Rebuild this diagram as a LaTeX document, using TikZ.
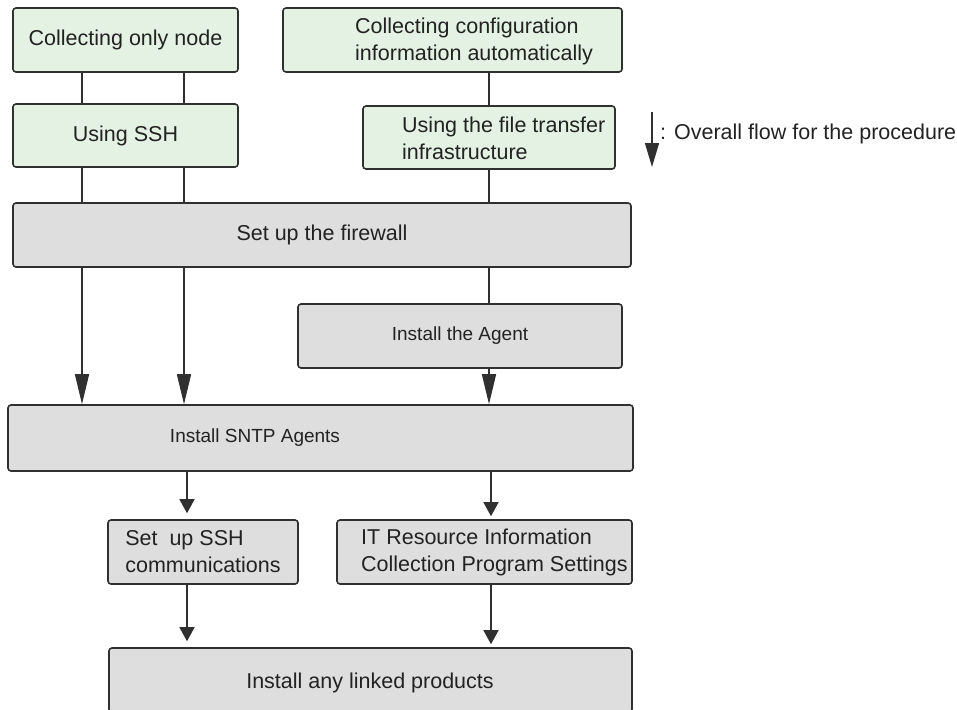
\documentclass[tikz,border=0pt]{standalone}
\usepackage{fontspec}
\setmainfont{Liberation Sans}
\usetikzlibrary{arrows.meta}
\definecolor{boxgreen}{HTML}{E4F2E4}
\definecolor{boxgray}{HTML}{DEDEDE}
\definecolor{edgec}{HTML}{303030}
\definecolor{textc}{HTML}{222222}
\begin{document}
\begin{tikzpicture}[x=1pt,y=-1pt,
  box/.style={draw=edgec, line width=1.6pt, rounded corners=3pt, inner sep=0pt, minimum height=64pt},
  gbox/.style={box, fill=boxgreen, minimum width=#1},
  ybox/.style={box, fill=boxgray, minimum width=#1},
  txt/.style={font=\fontsize{21.5}{27}\selectfont, text=textc, align=left, inner sep=0pt},
  stxt/.style={font=\fontsize{19}{23}\selectfont, text=textc, align=left, inner sep=0pt},
  conn/.style={draw=edgec, line width=1.5pt},
  arrL/.style={conn, -{Triangle[length=30pt,width=14pt]}},
  arrS/.style={conn, -{Triangle[length=14pt,width=15pt]}},
]
\useasboundingbox (0,0) rectangle (957,709);
% column coordinates
\coordinate (cA) at (82,0);
\coordinate (cB) at (184,0);
\coordinate (cC) at (489,0);
\coordinate (cD) at (187,0);
\coordinate (cE) at (491,0);

% top green boxes
\node[gbox=225pt, txt] (b1) at (125.5,40) {Collecting only node};
\node[gbox=225pt, txt, minimum height=63pt] (b2) at (125.5,135.5) {Using SSH};
\node[gbox=339pt] (b3) at (452.5,40) {};
\node[txt, anchor=west] (b3t) at (355,41) {Collecting configuration\\information automatically};
\node[gbox=252pt, minimum height=63pt] (b4) at (489,137.5) {};
\node[txt, anchor=west] (b4t) at (402,138) {Using the file transfer\\infrastructure};

% gray boxes
\node[ybox=618pt, txt] (fw) at (322,235) {Set up the firewall};
\node[ybox=324pt, stxt] (ag) at (460,336) {Install the Agent};
\node[ybox=625pt, minimum height=66pt] (sn) at (320.5,438) {};
\node[stxt] (snt) at (255,438) {Install SNTP Agents};
\node[ybox=190pt, txt] (ssh) at (203,552) {Set\ \ up SSH\\communications};
\node[ybox=295pt] (it) at (484.5,552) {};
\node[txt, anchor=west] (itt) at (361,552) {IT Resource Information\\Collection Program Settings};
\node[ybox=523pt] (lk) at (370.5,680) {};
\node[txt] (lkt) at (370,683) {Install any linked products};

% legend
\coordinate (lgtop) at (652,112);
\coordinate (lgbot) at (652,167);
\draw[conn, -{Triangle[length=24pt,width=14pt]}] (lgtop) -- (lgbot);
\node[txt, anchor=west] (lg) at (660,134) {: Overall flow for the procedure};

% connectors
\draw[conn] (b1.south -| cA) -- (b2.north -| cA);
\draw[conn] (b1.south -| cB) -- (b2.north -| cB);
\draw[conn] (b2.south -| cA) -- (fw.north -| cA);
\draw[conn] (b2.south -| cB) -- (fw.north -| cB);
\draw[conn] (b3.south -| cC) -- (b4.north -| cC);
\draw[conn] (b4.south -| cC) -- (fw.north -| cC);
\draw[arrL] (fw.south -| cA) -- (sn.north -| cA);
\draw[arrL] (fw.south -| cB) -- (sn.north -| cB);
\draw[conn] (fw.south -| cC) -- (ag.north -| cC);
\draw[arrL] (ag.south -| cC) -- (sn.north -| cC);
\draw[arrS, shorten >=6pt] (sn.south -| cD) -- (ssh.north -| cD);
\draw[arrS, shorten >=3pt] (sn.south -| cE) -- (it.north -| cE);
\draw[arrS, shorten >=6pt] (ssh.south -| cD) -- (lk.north -| cD);
\draw[arrS, shorten >=3pt] (it.south -| cE) -- (lk.north -| cE);
\end{tikzpicture}
\end{document}
